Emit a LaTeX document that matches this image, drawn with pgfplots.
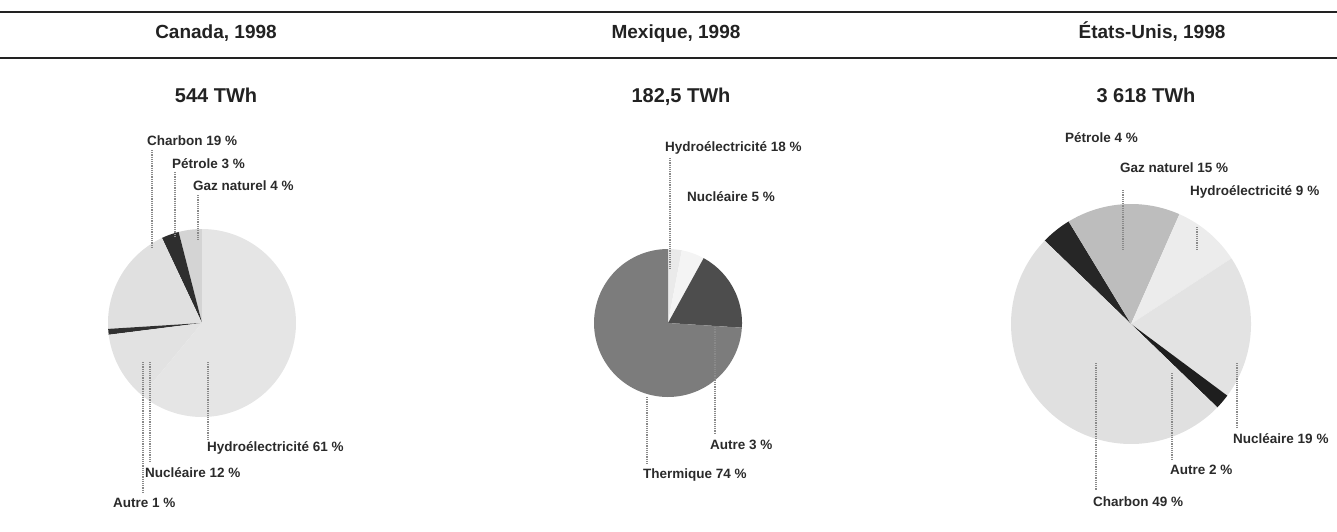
\documentclass[border=0pt]{standalone}
\usepackage{pgfplots}
\pgfplotsset{compat=1.18}
\usepackage{fontspec}
\setmainfont{Liberation Sans}
\definecolor{txt}{HTML}{222222}
\definecolor{lbl}{HTML}{2A2A2A}
\definecolor{lead}{HTML}{8A8A8A}
% Canada
\definecolor{caGaz}{HTML}{D4D4D4}
\definecolor{caPet}{HTML}{2E2E2E}
\definecolor{caCha}{HTML}{E0E0E0}
\definecolor{caAut}{HTML}{303030}
\definecolor{caNuc}{HTML}{E2E2E2}
\definecolor{caHyd}{HTML}{E5E5E5}
% Mexique
\definecolor{mxAut}{HTML}{EAEAEA}
\definecolor{mxNuc}{HTML}{F4F4F4}
\definecolor{mxHyd}{HTML}{4D4D4D}
\definecolor{mxThe}{HTML}{7C7C7C}
% Etats-Unis
\definecolor{usPet}{HTML}{262626}
\definecolor{usGaz}{HTML}{BDBDBD}
\definecolor{usHyd}{HTML}{ECECEC}
\definecolor{usNuc}{HTML}{E3E3E3}
\definecolor{usAut}{HTML}{1E1E1E}
\definecolor{usCha}{HTML}{E0E0E0}

% one pie slice: #1 cx, #2 cy, #3 r, #4 share (%), #5 colour, #6 degrees per % (signed)
\newcommand\pieslice[6]{%
  \pgfmathsetmacro\pend{\pstart+(#6)*(#4)}%
  \pgfmathsetmacro\plo{min(\pstart,\pend)}%
  \pgfmathsetmacro\phigh{max(\pstart,\pend)}%
  \edef\doit{\noexpand\addplot[fill=#5,draw=none,domain=\plo:\phigh,samples=90,forget plot]
    ({#1+#3*cos(x)},{#2-#3*sin(x)}) -- (axis cs:#1,#2) -- cycle;}%
  \doit
  \global\let\pstart\pend
}
\newcommand\lab[3]{\node[anchor=west,inner sep=0pt,text=lbl,font=\fontsize{13.5}{15}\selectfont\bfseries] at (axis cs:#1,#2) {#3};}
\newcommand\lead[3]{\draw[lead,densely dotted,line width=1.2pt] (axis cs:#1,#2) -- (axis cs:#1,#3);}
\newcommand\head[3]{\node[anchor=base,inner sep=0pt,text=txt,font=\fontsize{19}{21}\selectfont\bfseries] at (axis cs:#1,#2) {#3};}
\newcommand\tot[3]{\node[anchor=base,inner sep=0pt,text=txt,font=\fontsize{20}{22}\selectfont\bfseries] at (axis cs:#1,#2) {#3};}

\begin{document}
\begin{tikzpicture}
\begin{axis}[
  at={(0,0)}, anchor=south west,
  width=1337pt, height=531pt, scale only axis,
  xmin=0, xmax=1337, ymin=0, ymax=531, y dir=reverse,
  hide axis, clip=false]

% rules
\draw[txt,line width=1.6pt] (axis cs:0,12) -- (axis cs:1337,12);
\draw[txt,line width=1.6pt] (axis cs:0,58) -- (axis cs:1337,58);

% headers
\head{216}{38}{Canada, 1998}
\head{676}{38}{Mexique, 1998}
\head{1152}{38}{États-Unis, 1998}

% totals
\tot{216}{102}{544 TWh}
\tot{681}{102}{182,5 TWh}
\tot{1146}{102}{3 618 TWh}

% ---- Canada (counter-clockwise from 12 o'clock)
\gdef\pstart{90}
\pieslice{202}{323}{94}{4}{caGaz}{3.6}
\pieslice{202}{323}{94}{3}{caPet}{3.6}
\pieslice{202}{323}{94}{19}{caCha}{3.6}
\pieslice{202}{323}{94}{1}{caAut}{3.6}
\pieslice{202}{323}{94}{12}{caNuc}{3.6}
\pieslice{202}{323}{94}{61}{caHyd}{3.6}

% ---- Mexique (clockwise from 12 o'clock)
\gdef\pstart{90}
\pieslice{668}{323}{74}{3}{mxAut}{-3.6}
\pieslice{668}{323}{74}{5}{mxNuc}{-3.6}
\pieslice{668}{323}{74}{18}{mxHyd}{-3.6}
\pieslice{668}{323}{74}{74}{mxThe}{-3.6}

% ---- Etats-Unis (clockwise, shares sum to 98)
\gdef\pstart{136}
\pieslice{1131}{324}{120}{4}{usPet}{-360/98}
\pieslice{1131}{324}{120}{15}{usGaz}{-360/98}
\pieslice{1131}{324}{120}{9}{usHyd}{-360/98}
\pieslice{1131}{324}{120}{19}{usNuc}{-360/98}
\pieslice{1131}{324}{120}{2}{usAut}{-360/98}
\pieslice{1131}{324}{120}{49}{usCha}{-360/98}

% leader lines
\lead{152}{150}{247}
\lead{175}{172}{237}
\lead{198}{195}{240}
\lead{208}{362}{440}
\lead{150}{362}{463}
\lead{143}{362}{494}
\lead{670}{158}{270}
\lead{715}{327}{433}
\lead{647}{397}{465}
\lead{1123}{190}{250}
\lead{1197}{227}{250}
\lead{1237}{363}{428}
\lead{1172}{373}{460}
\lead{1096}{363}{490}

% labels: Canada
\lab{147}{141}{Charbon 19 \%}
\lab{172}{164}{Pétrole 3 \%}
\lab{193}{186}{Gaz naturel 4 \%}
\lab{207}{448}{Hydroélectricité 61 \%}
\lab{145}{473}{Nucléaire 12 \%}
\lab{113}{503}{Autre 1 \%}
% labels: Mexique
\lab{665}{148}{Hydroélectricité 18 \%}
\lab{687}{197}{Nucléaire 5 \%}
\lab{710}{445}{Autre 3 \%}
\lab{643}{475}{Thermique 74 \%}
% labels: Etats-Unis
\lab{1065}{138}{Pétrole 4 \%}
\lab{1120}{168}{Gaz naturel 15 \%}
\lab{1190}{192}{Hydroélectricité 9 \%}
\lab{1233}{439}{Nucléaire 19 \%}
\lab{1170}{470}{Autre 2 \%}
\lab{1093}{502}{Charbon 49 \%}
\end{axis}
\pgfresetboundingbox
\path[use as bounding box] (0,0) rectangle (1337pt,531pt);
\end{tikzpicture}
\end{document}
